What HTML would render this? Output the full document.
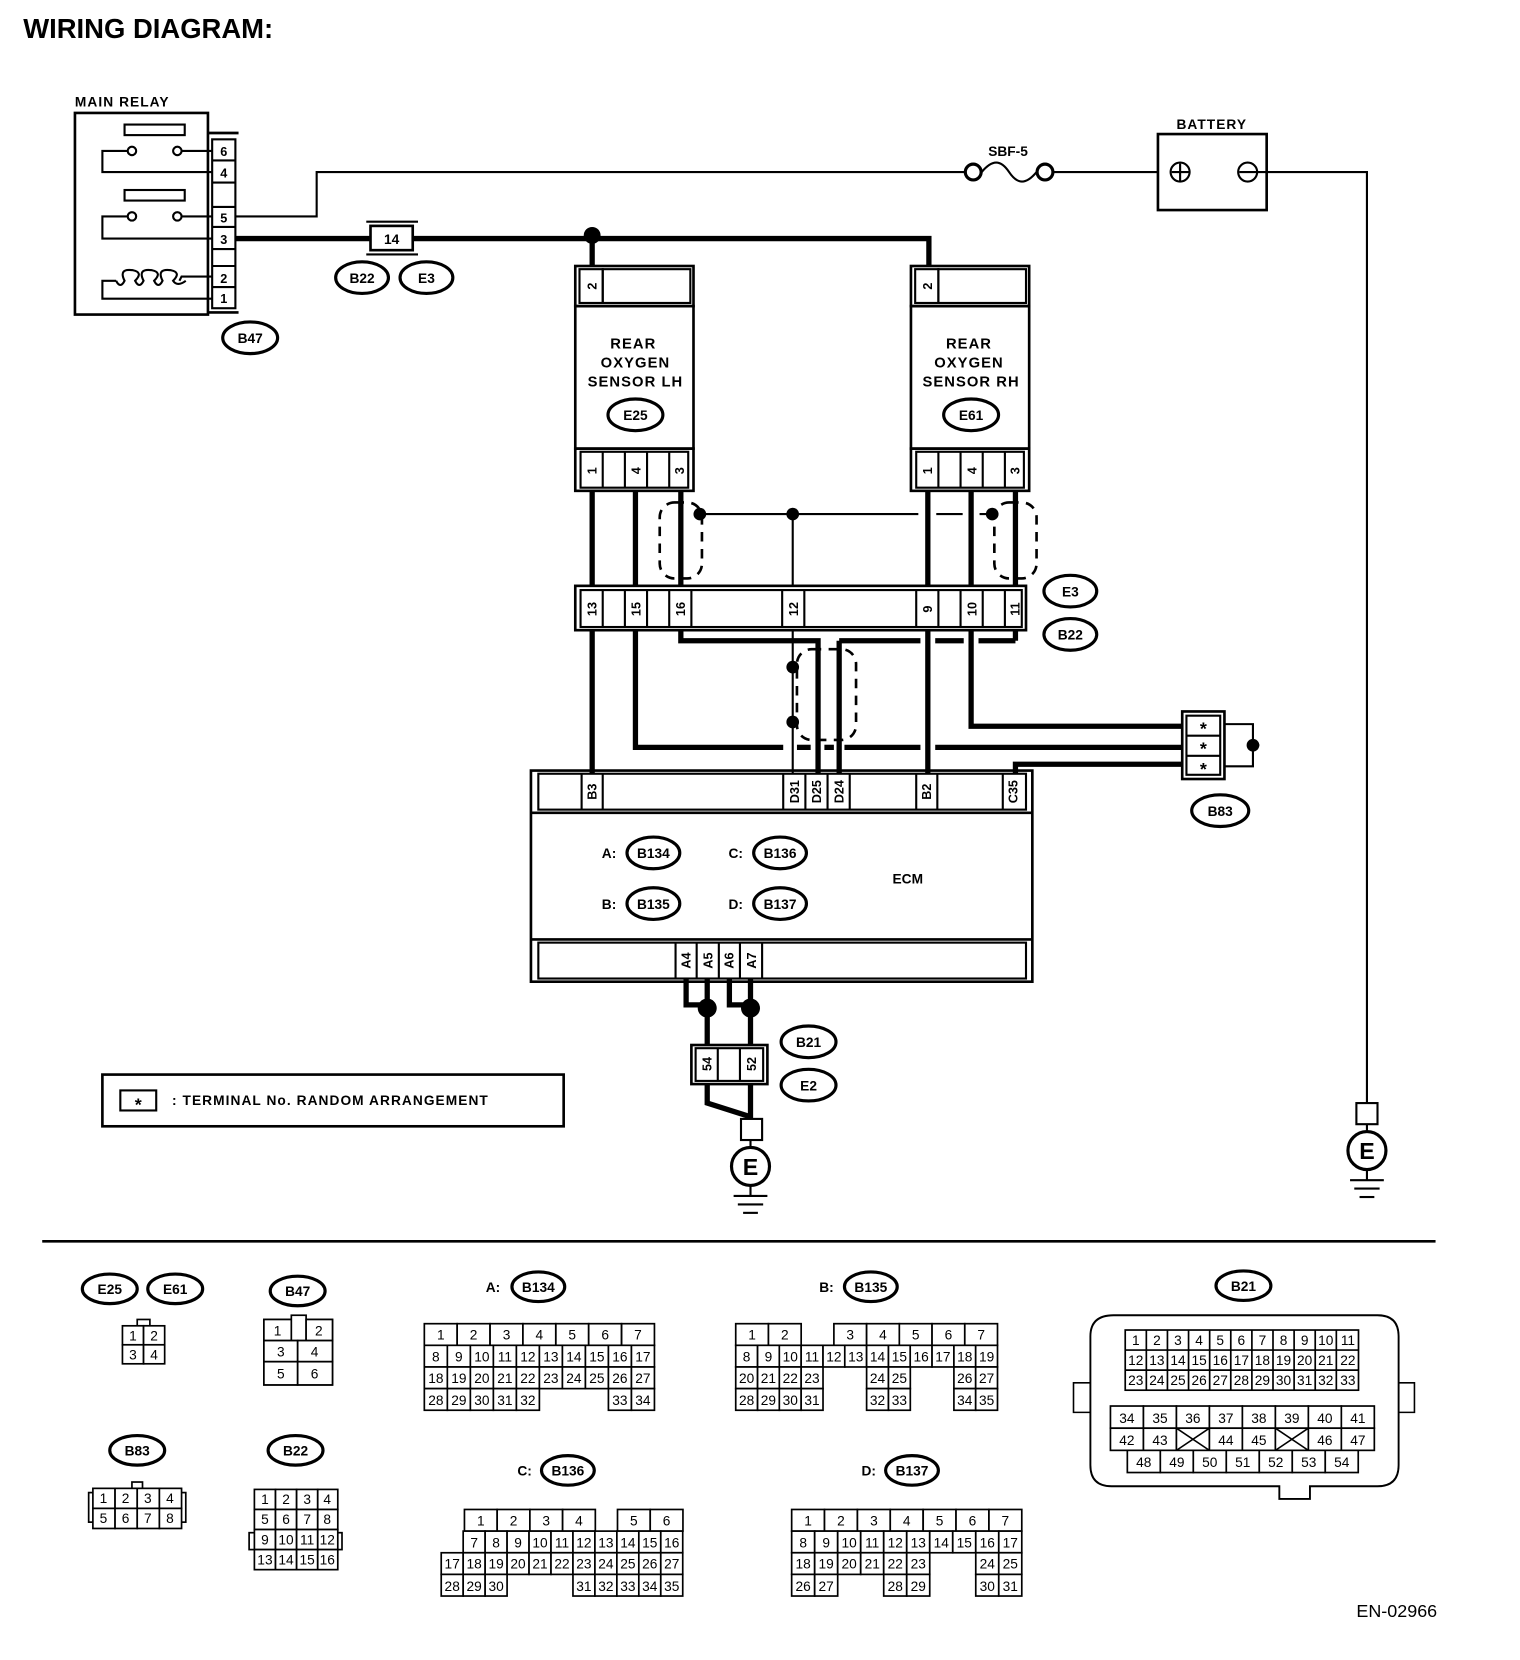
<!DOCTYPE html>
<html><head><meta charset="utf-8"><style>
html,body{margin:0;padding:0;background:#fff}
svg{display:block}
text{font-family:"Liberation Sans",sans-serif;fill:#000}
.c{text-anchor:middle}
.b{font-weight:bold}
.g rect{fill:#fff;stroke:#000;stroke-width:1.6}
.g text{font-size:13px;text-anchor:middle}
.th{stroke:#000;stroke-width:5;fill:none}
.tn{stroke:#000;stroke-width:2;fill:none}
.o{fill:#fff;stroke:#000;stroke-width:3}
.ot{font-size:13px;font-weight:bold;text-anchor:middle}
.pin text{font-size:12px;font-weight:bold}
.ds{stroke:#000;stroke-width:2.5;fill:none;stroke-dasharray:9 7}
</style></head><body>
<svg width="1520" height="1660" viewBox="0 0 1440 1572.6" preserveAspectRatio="none" xmlns="http://www.w3.org/2000/svg">
<text x="22" y="36" class="b" font-size="26">WIRING DIAGRAM:</text>

<!-- MAIN RELAY -->
<text x="71" y="101" class="b" font-size="13" letter-spacing="1">MAIN RELAY</text>
<rect x="71" y="107" width="126" height="191" fill="none" stroke="#000" stroke-width="2.5"/>
<g fill="none" stroke="#000" stroke-width="2">
<line x1="197" y1="126" x2="226" y2="126" stroke-width="2.5"/><line x1="197" y1="296" x2="226" y2="296" stroke-width="2.5"/>
<rect x="201" y="132" width="22" height="160"/>
<line x1="201" y1="152" x2="223" y2="152"/><line x1="201" y1="173" x2="223" y2="173"/><line x1="201" y1="196" x2="223" y2="196"/><line x1="201" y1="215" x2="223" y2="215"/><line x1="201" y1="236" x2="223" y2="236"/><line x1="201" y1="252" x2="223" y2="252"/><line x1="201" y1="272" x2="223" y2="272"/>
<rect x="118" y="118" width="57" height="10"/><rect x="118" y="180" width="57" height="10"/>
<circle cx="125" cy="143" r="4"/><circle cx="168" cy="143" r="4"/><circle cx="125" cy="205" r="4"/><circle cx="168" cy="205" r="4"/>
<polyline points="121,143 97,143 97,163 201,163"/><line x1="172" y1="143" x2="201" y2="143"/>
<polyline points="121,205 97,205 97,226 201,226"/><line x1="172" y1="205" x2="201" y2="205"/>
<polyline points="201,262 172,262 170,266"/><polyline points="201,283 97,283 97,266 110,266"/>
<path d="M110,266 q4,8 8,0 q-6,-12 8,-10 q10,2 2,10 q4,8 8,0 q-6,-12 8,-10 q10,2 2,10 q4,8 8,0 q-6,-12 8,-10 q10,2 2,10 q4,6 12,0"/>
</g>
<g class="pin" font-size="12"><text x="212" y="148" class="c b" font-size="13">6</text><text x="212" y="168" class="c b" font-size="13">4</text><text x="212" y="211" class="c b" font-size="13">5</text><text x="212" y="231" class="c b" font-size="13">3</text><text x="212" y="268" class="c b" font-size="13">2</text><text x="212" y="287" class="c b" font-size="13">1</text></g>
<ellipse cx="237" cy="320" rx="26" ry="15" class="o"/><text x="237" y="325" class="ot">B47</text>

<!-- thin wire 5 -> fuse -> battery -> ground -->
<polyline class="tn" points="223,205 300,205 300,163 915,163"/>
<circle cx="922" cy="163" r="7.5" class="o" stroke-width="2"/><circle cx="990" cy="163" r="7.5" class="o" stroke-width="2"/>
<path d="M930,163 c10,-12 18,-12 26,0 s16,12 26,0" class="tn"/>
<text x="955" y="148" class="ot">SBF-5</text>
<line x1="997" y1="163" x2="1097" y2="163" class="tn"/>
<text x="1148" y="122" class="ot" letter-spacing="1">BATTERY</text>
<rect x="1097" y="127" width="103" height="72" fill="none" stroke="#000" stroke-width="2.5"/>
<circle cx="1118" cy="163" r="9" fill="none" stroke="#000" stroke-width="2"/><line x1="1110" y1="163" x2="1126" y2="163" stroke="#000" stroke-width="2"/><line x1="1118" y1="155" x2="1118" y2="171" stroke="#000" stroke-width="2"/>
<circle cx="1182" cy="163" r="9" fill="none" stroke="#000" stroke-width="2"/><line x1="1174" y1="163" x2="1200" y2="163" stroke="#000" stroke-width="2"/>
<polyline class="tn" points="1200,163 1295,163 1295,1045"/>
<rect x="1285" y="1045" width="20" height="20" fill="#fff" stroke="#000" stroke-width="2"/>
<line x1="1295" y1="1065" x2="1295" y2="1072" class="tn"/>
<circle cx="1295" cy="1090" r="18" class="o"/><text x="1295" y="1098" class="c b" font-size="22">E</text>
<line x1="1295" y1="1108" x2="1295" y2="1118" class="tn"/>
<line x1="1279" y1="1118" x2="1311" y2="1118" class="tn"/><line x1="1283" y1="1126" x2="1307" y2="1126" class="tn"/><line x1="1288" y1="1134" x2="1302" y2="1134" class="tn"/>

<!-- thick wire 3 -> 14 -> sensors -->
<line x1="223" y1="226" x2="350" y2="226" class="th"/>
<line x1="347" y1="210" x2="396" y2="210" stroke="#000" stroke-width="2"/><line x1="347" y1="241" x2="396" y2="241" stroke="#000" stroke-width="2"/>
<rect x="351" y="214" width="40" height="23" fill="#fff" stroke="#000" stroke-width="2.5"/><text x="371" y="231" class="ot">14</text>
<polyline class="th" points="391,226 880,226 880,252"/>
<line x1="561" y1="226" x2="561" y2="252" class="th"/><circle cx="561" cy="223" r="8"/>
<ellipse cx="343" cy="263" rx="25" ry="15" class="o"/><text x="343" y="268" class="ot">B22</text>
<ellipse cx="404" cy="263" rx="25" ry="15" class="o"/><text x="404" y="268" class="ot">E3</text>

<!-- sensors -->
<g fill="none" stroke="#000" stroke-width="2.5">
<rect x="545" y="252" width="112" height="38"/><rect x="549" y="255" width="22" height="32" stroke-width="2"/><rect x="571" y="255" width="83" height="32" stroke-width="2"/>
<rect x="545" y="290" width="112" height="135"/>
<rect x="545" y="425" width="112" height="40"/>
<rect x="863" y="252" width="112" height="38"/><rect x="867" y="255" width="22" height="32" stroke-width="2"/><rect x="889" y="255" width="83" height="32" stroke-width="2"/>
<rect x="863" y="290" width="112" height="135"/>
<rect x="863" y="425" width="112" height="40"/>
</g>
<g fill="none" stroke="#000" stroke-width="2">
<rect x="550" y="428" width="102" height="34"/><line x1="571" y1="428" x2="571" y2="462"/><line x1="592" y1="428" x2="592" y2="462"/><line x1="613" y1="428" x2="613" y2="462"/><line x1="634" y1="428" x2="634" y2="462"/>
<rect x="868" y="428" width="102" height="34"/><line x1="889" y1="428" x2="889" y2="462"/><line x1="910" y1="428" x2="910" y2="462"/><line x1="931" y1="428" x2="931" y2="462"/><line x1="952" y1="428" x2="952" y2="462"/>
</g>
<g class="b" font-size="12">
<text transform="translate(565,271) rotate(-90)" class="c">2</text><text transform="translate(883,271) rotate(-90)" class="c">2</text>
<text transform="translate(565,446) rotate(-90)" class="c">1</text><text transform="translate(607,446) rotate(-90)" class="c">4</text><text transform="translate(648,446) rotate(-90)" class="c">3</text>
<text transform="translate(883,446) rotate(-90)" class="c">1</text><text transform="translate(925,446) rotate(-90)" class="c">4</text><text transform="translate(966,446) rotate(-90)" class="c">3</text>
</g>
<g class="b c" font-size="14" letter-spacing="1"><text x="600" y="330">REAR</text><text x="602" y="348">OXYGEN</text><text x="602" y="366">SENSOR LH</text>
<text x="918" y="330">REAR</text><text x="918" y="348">OXYGEN</text><text x="920" y="366">SENSOR RH</text></g>
<ellipse cx="602" cy="393" rx="26" ry="15" class="o"/><text x="602" y="398" class="ot">E25</text>
<ellipse cx="920" cy="393" rx="26" ry="15" class="o"/><text x="920" y="398" class="ot">E61</text>

<!-- wires between sensors and junction -->
<g class="th"><line x1="561" y1="465" x2="561" y2="556"/><line x1="602" y1="465" x2="602" y2="556"/><line x1="645" y1="465" x2="645" y2="556"/>
<line x1="879" y1="465" x2="879" y2="556"/><line x1="920" y1="465" x2="920" y2="556"/><line x1="962" y1="465" x2="962" y2="556"/></g>
<line x1="663" y1="487" x2="870" y2="487" class="tn"/><line x1="887" y1="487" x2="912" y2="487" class="tn"/><line x1="928" y1="487" x2="940" y2="487" class="tn"/>
<line x1="751" y1="487" x2="751" y2="556" class="tn"/>
<circle cx="663" cy="487" r="6"/><circle cx="751" cy="487" r="6"/><circle cx="940" cy="487" r="6"/>
<rect x="625" y="476" width="40" height="72" rx="14" class="ds"/>
<rect x="942" y="476" width="40" height="72" rx="14" class="ds"/>

<!-- junction connector -->
<g fill="none" stroke="#000" stroke-width="2.5"><rect x="545" y="555" width="427" height="42"/></g>
<g fill="#fff" stroke="#000" stroke-width="2"><rect x="550" y="559" width="418" height="35"/>
<line x1="571" y1="559" x2="571" y2="594"/><line x1="592" y1="559" x2="592" y2="594"/><line x1="613" y1="559" x2="613" y2="594"/><line x1="634" y1="559" x2="634" y2="594"/><line x1="655" y1="559" x2="655" y2="594"/>
<line x1="741" y1="559" x2="741" y2="594"/><line x1="762" y1="559" x2="762" y2="594"/>
<line x1="868" y1="559" x2="868" y2="594"/><line x1="889" y1="559" x2="889" y2="594"/><line x1="910" y1="559" x2="910" y2="594"/><line x1="931" y1="559" x2="931" y2="594"/><line x1="952" y1="559" x2="952" y2="594"/></g>
<g class="b" font-size="12">
<text transform="translate(565,577) rotate(-90)" class="c">13</text><text transform="translate(607,577) rotate(-90)" class="c">15</text><text transform="translate(649,577) rotate(-90)" class="c">16</text><text transform="translate(756,577) rotate(-90)" class="c">12</text>
<text transform="translate(883,577) rotate(-90)" class="c">9</text><text transform="translate(925,577) rotate(-90)" class="c">10</text><text transform="translate(966,577) rotate(-90)" class="c">11</text></g>
<ellipse cx="1014" cy="560" rx="25" ry="15" class="o"/><text x="1014" y="565" class="ot">E3</text>
<ellipse cx="1014" cy="601" rx="25" ry="15" class="o"/><text x="1014" y="606" class="ot">B22</text>

<!-- wires below junction -->
<g class="th">
<line x1="561" y1="597" x2="561" y2="733"/>
<polyline points="602,597 602,708 742,708"/><line x1="755" y1="708" x2="768" y2="708"/><line x1="781" y1="708" x2="790" y2="708"/><line x1="800" y1="708" x2="872" y2="708"/><line x1="886" y1="708" x2="1122" y2="708"/>
<polyline points="645,597 645,607 775,607 775,733"/>
<line x1="795" y1="607" x2="872" y2="607"/><line x1="886" y1="607" x2="913" y2="607"/><line x1="927" y1="607" x2="962" y2="607"/><polyline points="795,607 795,733"/><line x1="962" y1="597" x2="962" y2="607"/>
<line x1="879" y1="597" x2="879" y2="733"/>
<polyline points="920,597 920,688 1122,688"/>
<polyline points="962,733 962,724 1122,724"/>
</g>
<polyline class="tn" points="751,597 751,733"/>
<circle cx="751" cy="632" r="6"/><circle cx="751" cy="684" r="6"/>
<rect x="755" y="615" width="56" height="86" rx="14" class="ds"/>

<!-- B83 -->
<rect x="1120" y="674" width="40" height="64" fill="#fff" stroke="#000" stroke-width="2.5"/>
<g fill="none" stroke="#000" stroke-width="2"><rect x="1124" y="678" width="32" height="56"/><line x1="1124" y1="697" x2="1156" y2="697"/><line x1="1124" y1="716" x2="1156" y2="716"/>
<polyline points="1160,686 1187,686 1187,726 1160,726"/><line x1="1187" y1="706" x2="1193" y2="706"/></g>
<circle cx="1187" cy="706" r="6"/>
<g class="b c" font-size="17"><text x="1140" y="696">*</text><text x="1140" y="715">*</text><text x="1140" y="734">*</text></g>
<ellipse cx="1156" cy="768" rx="27" ry="15" class="o"/><text x="1156" y="773" class="ot">B83</text>

<!-- ECM -->
<rect x="503" y="730" width="475" height="200" fill="none" stroke="#000" stroke-width="2.5"/>
<line x1="503" y1="770" x2="978" y2="770" stroke="#000" stroke-width="2.5"/><line x1="503" y1="890" x2="978" y2="890" stroke="#000" stroke-width="2.5"/>
<g fill="none" stroke="#000" stroke-width="2"><rect x="510" y="733" width="462" height="34"/>
<line x1="551" y1="733" x2="551" y2="767"/><line x1="571" y1="733" x2="571" y2="767"/>
<line x1="742" y1="733" x2="742" y2="767"/><line x1="763" y1="733" x2="763" y2="767"/><line x1="784" y1="733" x2="784" y2="767"/><line x1="805" y1="733" x2="805" y2="767"/>
<line x1="868" y1="733" x2="868" y2="767"/><line x1="888" y1="733" x2="888" y2="767"/><line x1="950" y1="733" x2="950" y2="767"/>
<rect x="510" y="893" width="462" height="34"/>
<line x1="640" y1="893" x2="640" y2="927"/><line x1="660" y1="893" x2="660" y2="927"/><line x1="681" y1="893" x2="681" y2="927"/><line x1="701" y1="893" x2="701" y2="927"/><line x1="722" y1="893" x2="722" y2="927"/></g>
<g class="b" font-size="12">
<text transform="translate(565,750) rotate(-90)" class="c">B3</text><text transform="translate(757,750) rotate(-90)" class="c">D31</text><text transform="translate(778,750) rotate(-90)" class="c">D25</text><text transform="translate(799,750) rotate(-90)" class="c">D24</text>
<text transform="translate(882,750) rotate(-90)" class="c">B2</text><text transform="translate(964,750) rotate(-90)" class="c">C35</text>
<text transform="translate(654,910) rotate(-90)" class="c">A4</text><text transform="translate(675,910) rotate(-90)" class="c">A5</text><text transform="translate(695,910) rotate(-90)" class="c">A6</text><text transform="translate(716,910) rotate(-90)" class="c">A7</text></g>
<g class="ot"><text x="577" y="813">A:</text><text x="697" y="813">C:</text><text x="577" y="861">B:</text><text x="697" y="861">D:</text><text x="860" y="837">ECM</text></g>
<ellipse cx="619" cy="808" rx="25" ry="15" class="o"/><text x="619" y="813" class="ot">B134</text>
<ellipse cx="739" cy="808" rx="25" ry="15" class="o"/><text x="739" y="813" class="ot">B136</text>
<ellipse cx="619" cy="856" rx="25" ry="15" class="o"/><text x="619" y="861" class="ot">B135</text>
<ellipse cx="739" cy="856" rx="25" ry="15" class="o"/><text x="739" y="861" class="ot">B137</text>

<!-- below ECM -->
<g class="th"><polyline points="650,927 650,952 670,952"/><line x1="670" y1="927" x2="670" y2="993"/>
<polyline points="691,927 691,952 711,952"/><line x1="711" y1="927" x2="711" y2="993"/>
<polyline points="670,1027 670,1045 711,1058"/><line x1="711" y1="1027" x2="711" y2="1062"/></g>
<circle cx="670" cy="955" r="9"/><circle cx="711" cy="955" r="9"/>
<rect x="655" y="990" width="72" height="37" fill="#fff" stroke="#000" stroke-width="2.5"/>
<g fill="none" stroke="#000" stroke-width="2"><rect x="659" y="993" width="64" height="31"/><line x1="680" y1="993" x2="680" y2="1024"/><line x1="701" y1="993" x2="701" y2="1024"/></g>
<g class="b" font-size="12"><text transform="translate(674,1008) rotate(-90)" class="c">54</text><text transform="translate(716,1008) rotate(-90)" class="c">52</text></g>
<ellipse cx="766" cy="987" rx="26" ry="15" class="o"/><text x="766" y="992" class="ot">B21</text>
<ellipse cx="766" cy="1028" rx="26" ry="15" class="o"/><text x="766" y="1033" class="ot">E2</text>
<rect x="702" y="1060" width="20" height="20" fill="#fff" stroke="#000" stroke-width="2"/>
<line x1="711" y1="1080" x2="711" y2="1087" class="tn"/>
<circle cx="711" cy="1105" r="18" class="o"/><text x="711" y="1113" class="c b" font-size="22">E</text>
<line x1="711" y1="1123" x2="711" y2="1133" class="tn"/>
<line x1="695" y1="1133" x2="727" y2="1133" class="tn"/><line x1="699" y1="1141" x2="723" y2="1141" class="tn"/><line x1="704" y1="1149" x2="718" y2="1149" class="tn"/>

<!-- legend -->
<rect x="97" y="1018" width="437" height="49" fill="none" stroke="#000" stroke-width="2.5"/>
<rect x="114" y="1033" width="34" height="19" fill="none" stroke="#000" stroke-width="2"/>
<text x="131" y="1052" class="c b" font-size="17">*</text>
<text x="163" y="1047" class="b" font-size="13" letter-spacing="1">: TERMINAL No. RANDOM ARRANGEMENT</text>

<line x1="40" y1="1176" x2="1360" y2="1176" stroke="#000" stroke-width="2.5"/>

<!-- bottom connectors -->
<ellipse cx="104" cy="1221" rx="26" ry="14" class="o"/><text x="104" y="1226" class="ot">E25</text>
<ellipse cx="166" cy="1221" rx="26" ry="14" class="o"/><text x="166" y="1226" class="ot">E61</text>
<g class="g"><rect x="130" y="1250" width="12" height="6"/>
<rect x="116" y="1256" width="20" height="18"/><text x="126" y="1270">1</text><rect x="136" y="1256" width="20" height="18"/><text x="146" y="1270">2</text>
<rect x="116" y="1274" width="20" height="18"/><text x="126" y="1288">3</text><rect x="136" y="1274" width="20" height="18"/><text x="146" y="1288">4</text></g>

<ellipse cx="282" cy="1223" rx="26" ry="14" class="o"/><text x="282" y="1228" class="ot">B47</text>
<g class="g"><rect x="250" y="1250" width="65" height="62"/>
<rect x="250" y="1250" width="26" height="20"/><text x="263" y="1265">1</text><rect x="276" y="1246" width="14" height="24"/><rect x="290" y="1250" width="25" height="20"/><text x="302" y="1265">2</text>
<rect x="250" y="1270" width="32" height="20"/><text x="266" y="1285">3</text><rect x="282" y="1270" width="33" height="20"/><text x="298" y="1285">4</text>
<rect x="250" y="1290" width="32" height="22"/><text x="266" y="1306">5</text><rect x="282" y="1290" width="33" height="22"/><text x="298" y="1306">6</text></g>

<ellipse cx="130" cy="1374" rx="26" ry="14" class="o"/><text x="130" y="1379" class="ot">B83</text>
<g class="g"><rect x="84" y="1414" width="6" height="28"/><rect x="170" y="1414" width="6" height="28"/><rect x="125" y="1404" width="10" height="6"/>
<rect x="88" y="1410" width="21" height="19"/><text x="98" y="1424">1</text><rect x="109" y="1410" width="21" height="19"/><text x="119" y="1424">2</text><rect x="130" y="1410" width="21" height="19"/><text x="140" y="1424">3</text><rect x="151" y="1410" width="21" height="19"/><text x="161" y="1424">4</text>
<rect x="88" y="1429" width="21" height="19"/><text x="98" y="1443">5</text><rect x="109" y="1429" width="21" height="19"/><text x="119" y="1443">6</text><rect x="130" y="1429" width="21" height="19"/><text x="140" y="1443">7</text><rect x="151" y="1429" width="21" height="19"/><text x="161" y="1443">8</text></g>

<ellipse cx="280" cy="1374" rx="26" ry="14" class="o"/><text x="280" y="1379" class="ot">B22</text>
<g class="g"><rect x="236" y="1452" width="6" height="16"/><rect x="318" y="1452" width="6" height="16"/>
<rect x="241" y="1411" width="20" height="19"/><text x="251" y="1425">1</text><rect x="261" y="1411" width="20" height="19"/><text x="271" y="1425">2</text><rect x="281" y="1411" width="20" height="19"/><text x="291" y="1425">3</text><rect x="301" y="1411" width="19" height="19"/><text x="310" y="1425">4</text>
<rect x="241" y="1430" width="20" height="19"/><text x="251" y="1444">5</text><rect x="261" y="1430" width="20" height="19"/><text x="271" y="1444">6</text><rect x="281" y="1430" width="20" height="19"/><text x="291" y="1444">7</text><rect x="301" y="1430" width="19" height="19"/><text x="310" y="1444">8</text>
<rect x="241" y="1449" width="20" height="19"/><text x="251" y="1463">9</text><rect x="261" y="1449" width="20" height="19"/><text x="271" y="1463">10</text><rect x="281" y="1449" width="20" height="19"/><text x="291" y="1463">11</text><rect x="301" y="1449" width="19" height="19"/><text x="310" y="1463">12</text>
<rect x="241" y="1468" width="20" height="19"/><text x="251" y="1482">13</text><rect x="261" y="1468" width="20" height="19"/><text x="271" y="1482">14</text><rect x="281" y="1468" width="20" height="19"/><text x="291" y="1482">15</text><rect x="301" y="1468" width="19" height="19"/><text x="310" y="1482">16</text></g>

<!-- A: B134 -->
<text x="467" y="1224" class="ot">A:</text><ellipse cx="510" cy="1219" rx="25" ry="14" class="o"/><text x="510" y="1224" class="ot">B134</text>
<g class="g">
<rect x="402" y="1254" width="31.1" height="20.5"/><text x="417.6" y="1269">1</text><rect x="433.1" y="1254" width="31.1" height="20.5"/><text x="448.7" y="1269">2</text><rect x="464.3" y="1254" width="31.1" height="20.5"/><text x="479.9" y="1269">3</text><rect x="495.4" y="1254" width="31.1" height="20.5"/><text x="511" y="1269">4</text><rect x="526.6" y="1254" width="31.1" height="20.5"/><text x="542.1" y="1269">5</text><rect x="557.7" y="1254" width="31.1" height="20.5"/><text x="573.3" y="1269">6</text><rect x="588.9" y="1254" width="31.1" height="20.5"/><text x="604.4" y="1269">7</text>
<rect x="402" y="1274.5" width="21.8" height="20.5"/><text x="412.9" y="1290">8</text><rect x="423.8" y="1274.5" width="21.8" height="20.5"/><text x="434.7" y="1290">9</text><rect x="445.6" y="1274.5" width="21.8" height="20.5"/><text x="456.5" y="1290">10</text><rect x="467.4" y="1274.5" width="21.8" height="20.5"/><text x="478.3" y="1290">11</text><rect x="489.2" y="1274.5" width="21.8" height="20.5"/><text x="500.1" y="1290">12</text><rect x="511" y="1274.5" width="21.8" height="20.5"/><text x="521.9" y="1290">13</text><rect x="532.8" y="1274.5" width="21.8" height="20.5"/><text x="543.7" y="1290">14</text><rect x="554.6" y="1274.5" width="21.8" height="20.5"/><text x="565.5" y="1290">15</text><rect x="576.4" y="1274.5" width="21.8" height="20.5"/><text x="587.3" y="1290">16</text><rect x="598.2" y="1274.5" width="21.8" height="20.5"/><text x="609.1" y="1290">17</text>
<rect x="402" y="1295" width="21.8" height="20.5"/><text x="412.9" y="1310">18</text><rect x="423.8" y="1295" width="21.8" height="20.5"/><text x="434.7" y="1310">19</text><rect x="445.6" y="1295" width="21.8" height="20.5"/><text x="456.5" y="1310">20</text><rect x="467.4" y="1295" width="21.8" height="20.5"/><text x="478.3" y="1310">21</text><rect x="489.2" y="1295" width="21.8" height="20.5"/><text x="500.1" y="1310">22</text><rect x="511" y="1295" width="21.8" height="20.5"/><text x="521.9" y="1310">23</text><rect x="532.8" y="1295" width="21.8" height="20.5"/><text x="543.7" y="1310">24</text><rect x="554.6" y="1295" width="21.8" height="20.5"/><text x="565.5" y="1310">25</text><rect x="576.4" y="1295" width="21.8" height="20.5"/><text x="587.3" y="1310">26</text><rect x="598.2" y="1295" width="21.8" height="20.5"/><text x="609.1" y="1310">27</text>
<rect x="402" y="1315.5" width="21.8" height="20.5"/><text x="412.9" y="1331">28</text><rect x="423.8" y="1315.5" width="21.8" height="20.5"/><text x="434.7" y="1331">29</text><rect x="445.6" y="1315.5" width="21.8" height="20.5"/><text x="456.5" y="1331">30</text><rect x="467.4" y="1315.5" width="21.8" height="20.5"/><text x="478.3" y="1331">31</text><rect x="489.2" y="1315.5" width="21.8" height="20.5"/><text x="500.1" y="1331">32</text><rect x="576.4" y="1315.5" width="21.8" height="20.5"/><text x="587.3" y="1331">33</text><rect x="598.2" y="1315.5" width="21.8" height="20.5"/><text x="609.1" y="1331">34</text>
</g>

<!-- B: B135 -->
<text x="783" y="1224" class="ot">B:</text><ellipse cx="825" cy="1219" rx="25" ry="14" class="o"/><text x="825" y="1224" class="ot">B135</text>
<g class="g">
<rect x="697" y="1254" width="31" height="20.5"/><text x="712.5" y="1269">1</text><rect x="728" y="1254" width="31" height="20.5"/><text x="743.5" y="1269">2</text><rect x="790" y="1254" width="31" height="20.5"/><text x="805.5" y="1269">3</text><rect x="821" y="1254" width="31" height="20.5"/><text x="836.5" y="1269">4</text><rect x="852" y="1254" width="31" height="20.5"/><text x="867.5" y="1269">5</text><rect x="883" y="1254" width="31" height="20.5"/><text x="898.5" y="1269">6</text><rect x="914" y="1254" width="31" height="20.5"/><text x="929.5" y="1269">7</text>
<rect x="697" y="1274.5" width="20.7" height="20.5"/><text x="707.3" y="1290">8</text><rect x="717.7" y="1274.5" width="20.7" height="20.5"/><text x="728" y="1290">9</text><rect x="738.3" y="1274.5" width="20.7" height="20.5"/><text x="748.7" y="1290">10</text><rect x="759" y="1274.5" width="20.7" height="20.5"/><text x="769.3" y="1290">11</text><rect x="779.7" y="1274.5" width="20.7" height="20.5"/><text x="790" y="1290">12</text><rect x="800.3" y="1274.5" width="20.7" height="20.5"/><text x="810.7" y="1290">13</text><rect x="821" y="1274.5" width="20.7" height="20.5"/><text x="831.3" y="1290">14</text><rect x="841.7" y="1274.5" width="20.7" height="20.5"/><text x="852" y="1290">15</text><rect x="862.3" y="1274.5" width="20.7" height="20.5"/><text x="872.7" y="1290">16</text><rect x="883" y="1274.5" width="20.7" height="20.5"/><text x="893.3" y="1290">17</text><rect x="903.7" y="1274.5" width="20.7" height="20.5"/><text x="914" y="1290">18</text><rect x="924.3" y="1274.5" width="20.7" height="20.5"/><text x="934.7" y="1290">19</text>
<rect x="697" y="1295" width="20.7" height="20.5"/><text x="707.3" y="1310">20</text><rect x="717.7" y="1295" width="20.7" height="20.5"/><text x="728" y="1310">21</text><rect x="738.3" y="1295" width="20.7" height="20.5"/><text x="748.7" y="1310">22</text><rect x="759" y="1295" width="20.7" height="20.5"/><text x="769.3" y="1310">23</text><rect x="821" y="1295" width="20.7" height="20.5"/><text x="831.3" y="1310">24</text><rect x="841.7" y="1295" width="20.7" height="20.5"/><text x="852" y="1310">25</text><rect x="903.7" y="1295" width="20.7" height="20.5"/><text x="914" y="1310">26</text><rect x="924.3" y="1295" width="20.7" height="20.5"/><text x="934.7" y="1310">27</text>
<rect x="697" y="1315.5" width="20.7" height="20.5"/><text x="707.3" y="1331">28</text><rect x="717.7" y="1315.5" width="20.7" height="20.5"/><text x="728" y="1331">29</text><rect x="738.3" y="1315.5" width="20.7" height="20.5"/><text x="748.7" y="1331">30</text><rect x="759" y="1315.5" width="20.7" height="20.5"/><text x="769.3" y="1331">31</text><rect x="821" y="1315.5" width="20.7" height="20.5"/><text x="831.3" y="1331">32</text><rect x="841.7" y="1315.5" width="20.7" height="20.5"/><text x="852" y="1331">33</text><rect x="903.7" y="1315.5" width="20.7" height="20.5"/><text x="914" y="1331">34</text><rect x="924.3" y="1315.5" width="20.7" height="20.5"/><text x="934.7" y="1331">35</text>
</g>

<!-- C: B136 -->
<text x="497" y="1398" class="ot">C:</text><ellipse cx="538" cy="1393" rx="25" ry="14" class="o"/><text x="538" y="1398" class="ot">B136</text>
<g class="g">
<rect x="440" y="1430" width="31" height="20.5"/><text x="455.5" y="1445">1</text><rect x="471" y="1430" width="31" height="20.5"/><text x="486.5" y="1445">2</text><rect x="502" y="1430" width="31" height="20.5"/><text x="517.5" y="1445">3</text><rect x="533" y="1430" width="31" height="20.5"/><text x="548.5" y="1445">4</text><rect x="585" y="1430" width="31" height="20.5"/><text x="600.5" y="1445">5</text><rect x="616" y="1430" width="31" height="20.5"/><text x="631.5" y="1445">6</text>
<rect x="438.8" y="1450.5" width="20.8" height="20.5"/><text x="449.2" y="1466">7</text><rect x="459.6" y="1450.5" width="20.8" height="20.5"/><text x="470" y="1466">8</text><rect x="480.4" y="1450.5" width="20.8" height="20.5"/><text x="490.8" y="1466">9</text><rect x="501.2" y="1450.5" width="20.8" height="20.5"/><text x="511.6" y="1466">10</text><rect x="522" y="1450.5" width="20.8" height="20.5"/><text x="532.4" y="1466">11</text><rect x="542.8" y="1450.5" width="20.8" height="20.5"/><text x="553.2" y="1466">12</text><rect x="563.6" y="1450.5" width="20.8" height="20.5"/><text x="574" y="1466">13</text><rect x="584.4" y="1450.5" width="20.8" height="20.5"/><text x="594.8" y="1466">14</text><rect x="605.2" y="1450.5" width="20.8" height="20.5"/><text x="615.6" y="1466">15</text><rect x="626" y="1450.5" width="20.8" height="20.5"/><text x="636.4" y="1466">16</text>
<rect x="418" y="1471" width="20.8" height="20.5"/><text x="428.4" y="1486">17</text><rect x="438.8" y="1471" width="20.8" height="20.5"/><text x="449.2" y="1486">18</text><rect x="459.6" y="1471" width="20.8" height="20.5"/><text x="470" y="1486">19</text><rect x="480.4" y="1471" width="20.8" height="20.5"/><text x="490.8" y="1486">20</text><rect x="501.2" y="1471" width="20.8" height="20.5"/><text x="511.6" y="1486">21</text><rect x="522" y="1471" width="20.8" height="20.5"/><text x="532.4" y="1486">22</text><rect x="542.8" y="1471" width="20.8" height="20.5"/><text x="553.2" y="1486">23</text><rect x="563.6" y="1471" width="20.8" height="20.5"/><text x="574" y="1486">24</text><rect x="584.4" y="1471" width="20.8" height="20.5"/><text x="594.8" y="1486">25</text><rect x="605.2" y="1471" width="20.8" height="20.5"/><text x="615.6" y="1486">26</text><rect x="626" y="1471" width="20.8" height="20.5"/><text x="636.4" y="1486">27</text>
<rect x="418" y="1491.5" width="20.8" height="20.5"/><text x="428.4" y="1507">28</text><rect x="438.8" y="1491.5" width="20.8" height="20.5"/><text x="449.2" y="1507">29</text><rect x="459.6" y="1491.5" width="20.8" height="20.5"/><text x="470" y="1507">30</text><rect x="542.8" y="1491.5" width="20.8" height="20.5"/><text x="553.2" y="1507">31</text><rect x="563.6" y="1491.5" width="20.8" height="20.5"/><text x="574" y="1507">32</text><rect x="584.4" y="1491.5" width="20.8" height="20.5"/><text x="594.8" y="1507">33</text><rect x="605.2" y="1491.5" width="20.8" height="20.5"/><text x="615.6" y="1507">34</text><rect x="626" y="1491.5" width="20.8" height="20.5"/><text x="636.4" y="1507">35</text>
</g>

<!-- D: B137 -->
<text x="823" y="1398" class="ot">D:</text><ellipse cx="864" cy="1393" rx="25" ry="14" class="o"/><text x="864" y="1398" class="ot">B137</text>
<g class="g">
<rect x="750" y="1430" width="31.1" height="20.5"/><text x="765.6" y="1445">1</text><rect x="781.1" y="1430" width="31.1" height="20.5"/><text x="796.7" y="1445">2</text><rect x="812.3" y="1430" width="31.1" height="20.5"/><text x="827.9" y="1445">3</text><rect x="843.4" y="1430" width="31.1" height="20.5"/><text x="859" y="1445">4</text><rect x="874.6" y="1430" width="31.1" height="20.5"/><text x="890.1" y="1445">5</text><rect x="905.7" y="1430" width="31.1" height="20.5"/><text x="921.3" y="1445">6</text><rect x="936.9" y="1430" width="31.1" height="20.5"/><text x="952.4" y="1445">7</text>
<rect x="750" y="1450.5" width="21.8" height="20.5"/><text x="760.9" y="1466">8</text><rect x="771.8" y="1450.5" width="21.8" height="20.5"/><text x="782.7" y="1466">9</text><rect x="793.6" y="1450.5" width="21.8" height="20.5"/><text x="804.5" y="1466">10</text><rect x="815.4" y="1450.5" width="21.8" height="20.5"/><text x="826.3" y="1466">11</text><rect x="837.2" y="1450.5" width="21.8" height="20.5"/><text x="848.1" y="1466">12</text><rect x="859" y="1450.5" width="21.8" height="20.5"/><text x="869.9" y="1466">13</text><rect x="880.8" y="1450.5" width="21.8" height="20.5"/><text x="891.7" y="1466">14</text><rect x="902.6" y="1450.5" width="21.8" height="20.5"/><text x="913.5" y="1466">15</text><rect x="924.4" y="1450.5" width="21.8" height="20.5"/><text x="935.3" y="1466">16</text><rect x="946.2" y="1450.5" width="21.8" height="20.5"/><text x="957.1" y="1466">17</text>
<rect x="750" y="1471" width="21.8" height="20.5"/><text x="760.9" y="1486">18</text><rect x="771.8" y="1471" width="21.8" height="20.5"/><text x="782.7" y="1486">19</text><rect x="793.6" y="1471" width="21.8" height="20.5"/><text x="804.5" y="1486">20</text><rect x="815.4" y="1471" width="21.8" height="20.5"/><text x="826.3" y="1486">21</text><rect x="837.2" y="1471" width="21.8" height="20.5"/><text x="848.1" y="1486">22</text><rect x="859" y="1471" width="21.8" height="20.5"/><text x="869.9" y="1486">23</text><rect x="924.4" y="1471" width="21.8" height="20.5"/><text x="935.3" y="1486">24</text><rect x="946.2" y="1471" width="21.8" height="20.5"/><text x="957.1" y="1486">25</text>
<rect x="750" y="1491.5" width="21.8" height="20.5"/><text x="760.9" y="1507">26</text><rect x="771.8" y="1491.5" width="21.8" height="20.5"/><text x="782.7" y="1507">27</text><rect x="837.2" y="1491.5" width="21.8" height="20.5"/><text x="848.1" y="1507">28</text><rect x="859" y="1491.5" width="21.8" height="20.5"/><text x="869.9" y="1507">29</text><rect x="924.4" y="1491.5" width="21.8" height="20.5"/><text x="935.3" y="1507">30</text><rect x="946.2" y="1491.5" width="21.8" height="20.5"/><text x="957.1" y="1507">31</text>
</g>

<!-- B21 -->
<ellipse cx="1178" cy="1218" rx="26" ry="14" class="o"/><text x="1178" y="1223" class="ot">B21</text>
<path d="M1055,1246 H1305 Q1325,1246 1325,1266 V1388 Q1325,1408 1305,1408 H1241 V1420 H1212 V1408 H1053 Q1033,1408 1033,1388 V1266 Q1033,1246 1055,1246 Z" fill="none" stroke="#000" stroke-width="1.8"/>
<path d="M1033,1310 H1017 V1338 H1033 M1325,1310 H1340 V1338 H1325" fill="none" stroke="#000" stroke-width="1.5"/>
<g class="g">
<rect x="1066" y="1260" width="221" height="57" stroke-width="2.2"/>
<text x="1076" y="1274">1</text><text x="1096" y="1274">2</text><text x="1116" y="1274">3</text><text x="1136" y="1274">4</text><text x="1156" y="1274">5</text><text x="1176" y="1274">6</text><text x="1196" y="1274">7</text><text x="1216" y="1274">8</text><text x="1236" y="1274">9</text><text x="1256" y="1274">10</text><text x="1277" y="1274">11</text>
<text x="1076" y="1293">12</text><text x="1096" y="1293">13</text><text x="1116" y="1293">14</text><text x="1136" y="1293">15</text><text x="1156" y="1293">16</text><text x="1176" y="1293">17</text><text x="1196" y="1293">18</text><text x="1216" y="1293">19</text><text x="1236" y="1293">20</text><text x="1256" y="1293">21</text><text x="1277" y="1293">22</text>
<text x="1076" y="1312">23</text><text x="1096" y="1312">24</text><text x="1116" y="1312">25</text><text x="1136" y="1312">26</text><text x="1156" y="1312">27</text><text x="1176" y="1312">28</text><text x="1196" y="1312">29</text><text x="1216" y="1312">30</text><text x="1236" y="1312">31</text><text x="1256" y="1312">32</text><text x="1277" y="1312">33</text>
</g>
<g stroke="#000" stroke-width="1.6">
<line x1="1066" y1="1279" x2="1287" y2="1279"/><line x1="1066" y1="1298" x2="1287" y2="1298"/>
<line x1="1086" y1="1260" x2="1086" y2="1317"/><line x1="1106" y1="1260" x2="1106" y2="1317"/><line x1="1126" y1="1260" x2="1126" y2="1317"/><line x1="1146" y1="1260" x2="1146" y2="1317"/><line x1="1166" y1="1260" x2="1166" y2="1317"/><line x1="1186" y1="1260" x2="1186" y2="1317"/><line x1="1206" y1="1260" x2="1206" y2="1317"/><line x1="1226" y1="1260" x2="1226" y2="1317"/><line x1="1246" y1="1260" x2="1246" y2="1317"/><line x1="1266" y1="1260" x2="1266" y2="1317"/>
</g>
<g class="g">
<rect x="1052" y="1332" width="31.25" height="21"/><text x="1067.6" y="1348">34</text><rect x="1083.25" y="1332" width="31.25" height="21"/><text x="1098.9" y="1348">35</text><rect x="1114.5" y="1332" width="31.25" height="21"/><text x="1130.1" y="1348">36</text><rect x="1145.75" y="1332" width="31.25" height="21"/><text x="1161.4" y="1348">37</text><rect x="1177" y="1332" width="31.25" height="21"/><text x="1192.6" y="1348">38</text><rect x="1208.25" y="1332" width="31.25" height="21"/><text x="1223.9" y="1348">39</text><rect x="1239.5" y="1332" width="31.25" height="21"/><text x="1255.1" y="1348">40</text><rect x="1270.75" y="1332" width="31.25" height="21"/><text x="1286.4" y="1348">41</text>
<rect x="1052" y="1353" width="31.25" height="21"/><text x="1067.6" y="1369">42</text><rect x="1083.25" y="1353" width="31.25" height="21"/><text x="1098.9" y="1369">43</text><rect x="1114.5" y="1353" width="31.25" height="21"/><rect x="1145.75" y="1353" width="31.25" height="21"/><text x="1161.4" y="1369">44</text><rect x="1177" y="1353" width="31.25" height="21"/><text x="1192.6" y="1369">45</text><rect x="1208.25" y="1353" width="31.25" height="21"/><rect x="1239.5" y="1353" width="31.25" height="21"/><text x="1255.1" y="1369">46</text><rect x="1270.75" y="1353" width="31.25" height="21"/><text x="1286.4" y="1369">47</text>
<rect x="1068" y="1374" width="31.25" height="21"/><text x="1083.6" y="1390">48</text><rect x="1099.25" y="1374" width="31.25" height="21"/><text x="1114.9" y="1390">49</text><rect x="1130.5" y="1374" width="31.25" height="21"/><text x="1146.1" y="1390">50</text><rect x="1161.75" y="1374" width="31.25" height="21"/><text x="1177.4" y="1390">51</text><rect x="1193" y="1374" width="31.25" height="21"/><text x="1208.6" y="1390">52</text><rect x="1224.25" y="1374" width="31.25" height="21"/><text x="1239.9" y="1390">53</text><rect x="1255.5" y="1374" width="31.25" height="21"/><text x="1271.1" y="1390">54</text>
</g>
<g stroke="#000" stroke-width="1.5"><line x1="1114.5" y1="1353" x2="1145.75" y2="1374"/><line x1="1145.75" y1="1353" x2="1114.5" y2="1374"/><line x1="1208.25" y1="1353" x2="1239.5" y2="1374"/><line x1="1239.5" y1="1353" x2="1208.25" y2="1374"/></g>

<text x="1285" y="1532" font-size="17">EN-02966</text>
</svg>
</body></html>
